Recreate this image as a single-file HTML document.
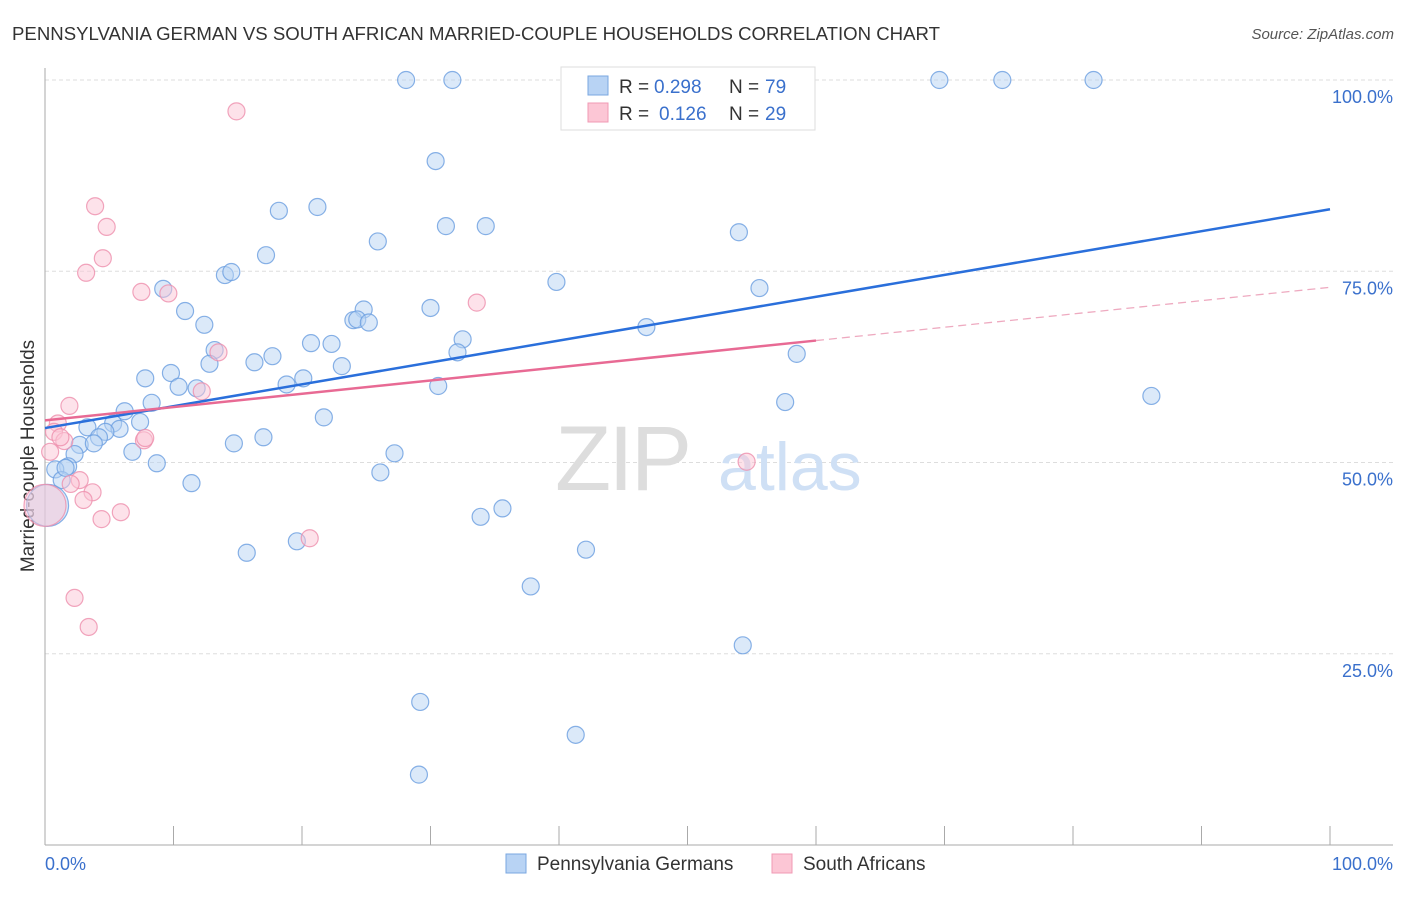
<!DOCTYPE html>
<html><head><meta charset="utf-8"><style>
body{margin:0;background:#fff;font-family:"Liberation Sans",sans-serif;}
svg text{font-family:"Liberation Sans",sans-serif;}
</style></head><body>
<svg id="chart" width="1406" height="892" xmlns="http://www.w3.org/2000/svg">
<text x="12" y="40" font-size="18.5" fill="#333" textLength="928" lengthAdjust="spacingAndGlyphs">PENNSYLVANIA GERMAN VS SOUTH AFRICAN MARRIED-COUPLE HOUSEHOLDS CORRELATION CHART</text>
<text x="1394" y="39" font-size="15" fill="#555" font-style="italic" text-anchor="end">Source: ZipAtlas.com</text>
<text transform="translate(34,456) rotate(-90)" font-size="19" fill="#333" text-anchor="middle">Married-couple Households</text>
<g id="grid"></g>
<g><text x="555" y="490" font-size="92" fill="#ddd" font-family="Liberation Serif" letter-spacing="-3">ZIP</text><text x="718" y="490" font-size="68" fill="#cfe0f5">atlas</text></g>
<g id="axes"></g>
<g id="marks"></g>
<g id="trends"></g>
<g>
<rect x="561" y="67" width="254" height="63" fill="#fff" stroke="#ddd"/>
<rect x="588" y="76" width="20" height="19" fill="#b8d3f4" stroke="#7aa7e0"/>
<rect x="588" y="103" width="20" height="19" fill="#fcc6d5" stroke="#f09ab4"/>
<text x="619" y="93" font-size="19" fill="#333">R =</text>
<text x="654" y="93" font-size="19" fill="#3a70cc">0.298</text>
<text x="729" y="93" font-size="19" fill="#333">N =</text>
<text x="765" y="93" font-size="19" fill="#3a70cc">79</text>
<text x="619" y="120" font-size="19" fill="#333">R =</text>
<text x="659" y="120" font-size="19" fill="#3a70cc">0.126</text>
<text x="729" y="120" font-size="19" fill="#333">N =</text>
<text x="765" y="120" font-size="19" fill="#3a70cc">29</text>
</g>
<g>
<rect x="506" y="854" width="20" height="19" fill="#b8d3f4" stroke="#7aa7e0"/>
<text x="537" y="870" font-size="19" fill="#333">Pennsylvania Germans</text>
<rect x="772" y="854" width="20" height="19" fill="#fcc6d5" stroke="#f09ab4"/>
<text x="803" y="870" font-size="19" fill="#333">South Africans</text>
</g>
</svg>
<script>
const yTicks=[25,50,75,100];
const yTickLabels=["25.0%","50.0%","75.0%","100.0%"];
const xTickCount=10;
const xEndLabels=["0.0%","100.0%"];
const blueX=[28.1,31.7,69.6,74.5,81.6,30.4,18.2,21.2,31.2,34.3,54.0,25.9,17.2,14.0,14.5,39.8,9.2,55.6,10.9,30.0,24.8,24.0,24.3,25.2,12.4,46.8,32.5,20.7,22.3,32.1,58.5,13.2,17.7,16.3,12.8,23.1,7.8,9.8,20.1,18.8,10.4,11.8,30.6,8.3,57.6,86.1,6.2,21.7,7.4,5.3,3.3,5.8,4.7,4.2,2.7,3.8,14.7,17.0,6.8,2.3,8.7,1.8,27.2,0.8,26.1,1.3,11.4,35.6,33.9,42.1,15.7,19.6,37.8,54.3,29.2,41.3,29.1,0.2,1.6];
const blueY=[100,100,100,100,100,89.4,82.9,83.4,80.9,80.9,80.1,78.9,77.1,74.5,74.9,73.6,72.7,72.8,69.8,70.2,70.0,68.6,68.7,68.3,68.0,67.7,66.1,65.6,65.5,64.4,64.2,64.7,63.9,63.1,62.9,62.6,61.0,61.7,61.0,60.2,59.9,59.7,60.0,57.8,57.9,58.7,56.7,55.9,55.3,55.1,54.6,54.4,54.0,53.3,52.3,52.5,52.5,53.3,51.4,51.1,49.9,49.5,51.2,49.1,48.7,47.7,47.3,44.0,42.9,38.6,38.2,39.7,33.8,26.1,18.7,14.4,9.2,44.4,49.3];
const pinkX=[14.9,3.9,4.8,4.5,3.2,7.5,9.6,33.6,13.5,12.2,1.9,1.0,0.7,7.7,1.5,0.4,2.7,2.0,3.7,3.0,5.9,4.4,20.6,54.6,2.3,3.4,0,1.2,7.8];
const pinkY=[95.9,83.5,80.8,76.7,74.8,72.3,72.1,70.9,64.4,59.3,57.4,55.1,54.0,52.9,52.8,51.4,47.7,47.2,46.1,45.1,43.5,42.6,40.1,50.1,32.3,28.5,44.4,53.3,53.2];
const blueTrend=[54.5,83.1];
const pinkTrend=[55.5,72.9];
const pinkSolidEnd=60;
const NS="http://www.w3.org/2000/svg";
const X0=45,X1=1330,Y0=845,Y100=80;
const xs=v=>X0+(X1-X0)*v/100, ys=v=>Y0-(Y0-Y100)*v/100;
function mk(tag,attrs,parent){const e=document.createElementNS(NS,tag);for(const k in attrs)e.setAttribute(k,attrs[k]);parent.appendChild(e);return e;}
const grid=document.getElementById('grid'),axes=document.getElementById('axes');
yTicks.forEach((t,i)=>{
 const l=mk('line',{x1:X0,x2:1393,y1:ys(t),y2:ys(t),stroke:'#ddd','stroke-dasharray':'4 3'},grid);
 
 
 const tx=mk('text',{x:1393,y:ys(t)+23,'font-size':18,fill:'#3a70cc','text-anchor':'end'},axes);
 tx.textContent=yTickLabels[i];
 
 
});
const la=mk('line',{x1:X0,x2:X0,y1:68,y2:Y0,stroke:'#aaa'},axes);


const lb=mk('line',{x1:X0,x2:1393,y1:Y0,y2:Y0,stroke:'#aaa'},axes);


for(let i=0;i<=xTickCount;i++){const v=i*100/xTickCount;
 const t=mk('line',{x1:xs(v),x2:xs(v),y1:826,y2:Y0,stroke:'#aaa'},axes);
 
 }
[[0,'start',45],[100,'end',1393]].forEach((a,i)=>{
 const t=mk('text',{x:a[2],y:870,'font-size':18,fill:'#3a70cc','text-anchor':a[1]},axes);
 t.textContent=xEndLabels[i];
 
 });
const marks=document.getElementById('marks');
function pts(X,Y,fill,stroke,name,bigIdx){X.forEach((x,i)=>{
 const c=mk('circle',{cx:xs(x),cy:ys(Y[i]),r:i===bigIdx?21:8.5,fill:fill,'fill-opacity':0.5,stroke:stroke,'stroke-opacity':0.8,'stroke-width':1.2},marks);
 
 });}
pts(blueX,blueY,'#b8d3f4','#6a9ee0','point-pennsylvania-german',77);
pts(pinkX,pinkY,'#fcc6d5','#ee8fad','point-south-african',26);
const tr=document.getElementById('trends');
const bl=mk('line',{x1:xs(0),y1:ys(blueTrend[0]),x2:xs(100),y2:ys(blueTrend[1]),stroke:'#2a6fdb','stroke-width':2.5},tr);


const pm=pinkTrend[0]+(pinkTrend[1]-pinkTrend[0])*pinkSolidEnd/100;
const pl=mk('line',{x1:xs(0),y1:ys(pinkTrend[0]),x2:xs(pinkSolidEnd),y2:ys(pm),stroke:'#e86a94','stroke-width':2.5},tr);


const pd=mk('line',{x1:xs(pinkSolidEnd),y1:ys(pm),x2:xs(100),y2:ys(pinkTrend[1]),stroke:'#eeaac0','stroke-width':1.3,'stroke-dasharray':'8 5'},tr);


</script>
</body></html>
